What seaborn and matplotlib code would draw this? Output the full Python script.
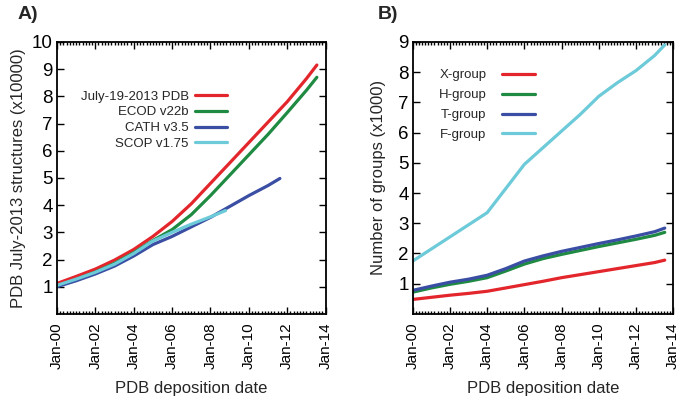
import pandas as pd
import matplotlib
matplotlib.use('Agg')
import matplotlib.pyplot as plt
import matplotlib.dates as mdates
import seaborn as sns

# ------------------------------------------------------------
# Donnees
# ------------------------------------------------------------
years = [f'{y}-01-01' for y in range(2000, 2014)]

# Panneau A : nombre de structures (x10000)
pdb_dates = years + ['2013-07-19']
pdb_vals = [1.12, 1.38, 1.65, 1.98, 2.37, 2.85, 3.4, 4.05, 4.8, 5.55,
            6.3, 7.05, 7.8, 8.65, 9.15]
ecod_dates = years + ['2013-07-19']
ecod_vals = [1.02, 1.27, 1.54, 1.86, 2.25, 2.7, 3.1, 3.65, 4.35, 5.1,
             5.85, 6.6, 7.4, 8.22, 8.7]
cath_dates = years[:12] + ['2011-08-15']
cath_vals = [1.0, 1.22, 1.47, 1.76, 2.13, 2.55, 2.85, 3.2, 3.55, 3.95,
             4.35, 4.72, 4.98]
scop_dates = years[:9] + ['2008-10-15']
scop_vals = [1.05, 1.28, 1.53, 1.83, 2.22, 2.68, 3.0, 3.3, 3.57, 3.8]

# Panneau B : nombre de groupes (x1000)
grp_dates = years + ['2013-07-19']
x_group = [0.48, 0.55, 0.62, 0.68, 0.75, 0.86, 0.97, 1.08, 1.2, 1.3,
           1.4, 1.5, 1.6, 1.7, 1.78]
h_group = [0.72, 0.86, 0.98, 1.08, 1.2, 1.42, 1.65, 1.83, 1.97, 2.1,
           2.23, 2.35, 2.47, 2.6, 2.7]
t_group = [0.78, 0.92, 1.05, 1.15, 1.28, 1.5, 1.75, 1.92, 2.07, 2.2,
           2.33, 2.45, 2.58, 2.72, 2.84]
f_group = [1.75, 2.15, 2.55, 2.95, 3.35, 4.15, 4.95, 5.5, 6.05, 6.6,
           7.2, 7.65, 8.05, 8.55, 8.9]

red, green, blue, cyan = '#e3262c', '#1f8a42', '#3a4ea3', '#6ccad9'

series_a = [('July-19-2013 PDB', pdb_dates, pdb_vals, red),
            ('ECOD v22b', ecod_dates, ecod_vals, green),
            ('CATH v3.5', cath_dates, cath_vals, blue),
            ('SCOP v1.75', scop_dates, scop_vals, cyan)]
series_b = [('X-group', grp_dates, x_group, red),
            ('H-group', grp_dates, h_group, green),
            ('T-group', grp_dates, t_group, blue),
            ('F-group', grp_dates, f_group, cyan)]

# ------------------------------------------------------------
# Figure
# ------------------------------------------------------------
sns.set_style('ticks')
plt.rcParams['font.family'] = ['Liberation Sans', 'DejaVu Sans']

fig = plt.figure(figsize=(6.8, 4.03), dpi=100)
ax1 = fig.add_axes([0.0838, 0.221, 0.395, 0.675])
ax2 = fig.add_axes([0.607, 0.221, 0.383, 0.675])


def draw(ax, series):
    for name, dates, vals, col in series:
        sns.lineplot(x=pd.to_datetime(dates), y=vals, color=col, label=name,
                     linewidth=2.3, ax=ax)


def style(ax, ymax, ylabel, ypad):
    ax.set_xlim(pd.Timestamp('2000-01-01'), pd.Timestamp('2014-01-01'))
    ax.set_ylim(0, ymax)
    ax.set_yticks(range(1, ymax + 1))
    ax.xaxis.set_major_locator(mdates.YearLocator(2))
    ax.xaxis.set_major_formatter(mdates.DateFormatter('%b-%y'))
    ax.xaxis.set_minor_locator(mdates.MonthLocator(interval=2))
    ax.tick_params(axis='both', which='both', direction='in',
                   top=True, right=True, width=1, colors='black')
    ax.tick_params(axis='both', which='major', length=5)
    ax.tick_params(axis='x', which='minor', length=2.5)
    ax.tick_params(axis='y', labelsize=13.5, pad=3)
    ax.tick_params(axis='x', labelsize=11, pad=6, labelrotation=90)
    for sp in ax.spines.values():
        sp.set_linewidth(1.3)
        sp.set_color('black')
    ax.set_xlabel('PDB deposition date', fontsize=12, labelpad=9)
    ax.set_ylabel(ylabel, fontsize=12, labelpad=ypad)


draw(ax1, series_a)
draw(ax2, series_b)
style(ax1, 10, 'PDB July-2013 structures (x10000)', 4)
style(ax2, 9, 'Number of groups (x1000)', 9)

ax1.legend(loc='upper right', bbox_to_anchor=(0.633, 0.822), frameon=False,
           markerfirst=False, fontsize=9.5, handlelength=2.45,
           handletextpad=0.45, labelspacing=0.27, borderpad=0,
           borderaxespad=0)
ax2.legend(loc='upper left', bbox_to_anchor=(0.1, 0.9), frameon=False,
           markerfirst=False, fontsize=9.5, handlelength=2.5,
           handletextpad=1.2, labelspacing=0.58, borderpad=0,
           borderaxespad=0)

fig.text(0.026, 0.963, 'A)', fontsize=14, fontweight='bold', va='center')
fig.text(0.556, 0.963, 'B)', fontsize=14, fontweight='bold', va='center')

fig.savefig('out.png', dpi=100)
